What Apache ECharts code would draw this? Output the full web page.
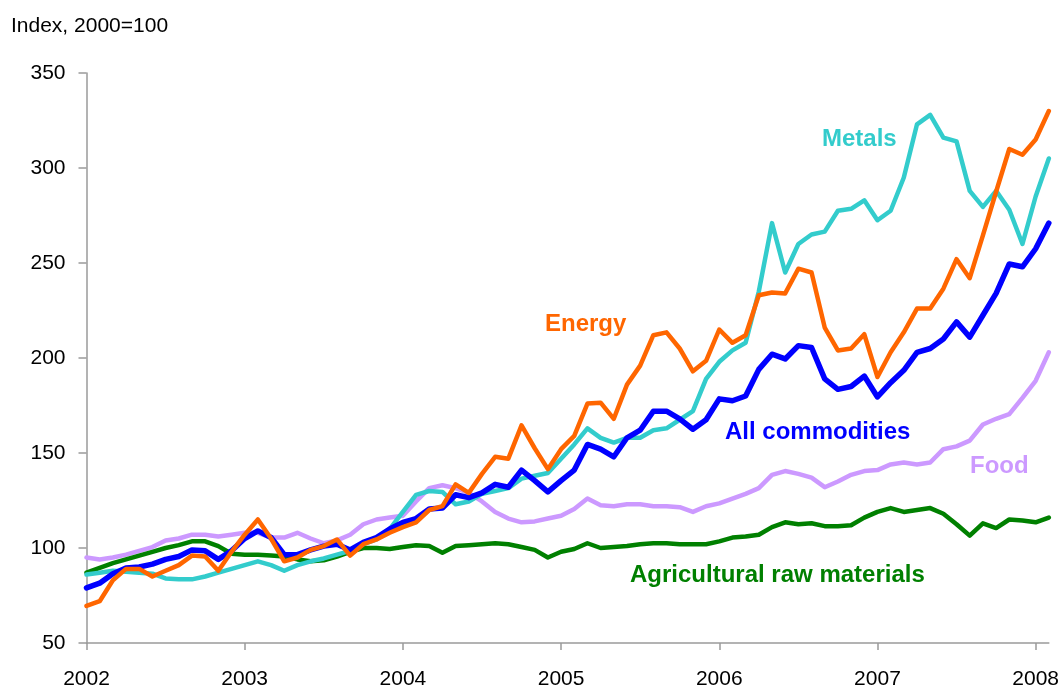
<!DOCTYPE html>
<html>
<head>
<meta charset="utf-8">
<script src="https://cdn.jsdelivr.net/npm/echarts@6/dist/echarts.min.js"></script>
<style>
  html, body { margin: 0; padding: 0; background: #fff; }
  #chart { width: 1062px; height: 693px; }
</style>
</head>
<body>
<div id="chart"></div>
<script>
// Monthly, Jan 2002 .. Feb 2008
const years = [2002, 2003, 2004, 2005, 2006, 2007, 2008];
const yTicks = [50, 100, 150, 200, 250, 300, 350];

const energy = [69.5, 72, 83, 89, 89, 85, 88, 91, 96, 95.5, 88, 98,
  107, 115, 105, 93, 95, 99, 101, 104.5, 96, 102, 104.5, 108,
  111, 113.5, 120, 122, 133.5, 129, 139, 148, 147, 164.5, 152.5, 141.5,
  152, 159, 176, 176.5, 168, 186, 196, 212, 213.5, 205, 193, 198.5,
  215, 208, 212, 233, 234.5, 234, 247, 245, 216, 204, 205, 212.5,
  190, 203, 213.5, 226, 226, 236.5, 252, 242, 264.5, 287.5, 310, 307,
  315, 330];

const metals = [86, 87, 88, 87.5, 87, 86.5, 84, 83.5, 83.5, 85, 87, 89,
  91, 93, 91, 88, 91, 93, 94.5, 96.5, 98.5, 102, 104.5, 110,
  119, 128, 130, 129.5, 123, 124.5, 128.5, 130, 131.5, 136.5, 138, 139.5,
  147, 154.5, 163, 158, 155.5, 158, 158, 162, 163, 167.5, 172, 189,
  198, 204, 208, 235, 271, 245, 260, 265, 266.5, 277.5, 278.5, 283,
  272.5, 277.5, 295, 323, 328, 316, 314, 288, 279.5, 288, 278, 260,
  285, 305];

const allCommodities = [79, 81.5, 86.5, 89.5, 90, 91.5, 94, 95.5, 99, 98.5, 94, 98.5,
  105, 109, 105.5, 96.5, 96.5, 99, 101, 102, 99, 103, 105.5, 110,
  113.5, 115.5, 120.5, 121, 128, 126.5, 129, 133.5, 132, 141, 135.5, 129.5,
  135.5, 141, 154.5, 152, 148, 158, 162, 172, 172, 168, 162.5, 167.5,
  178.5, 177.5, 180, 194, 202, 199.5, 206.5, 205.5, 189, 183.5, 185, 190.5,
  179.5, 187, 193.5, 203, 205, 210, 219, 211, 222.5, 234, 249.5, 248,
  257.5, 271];

const food = [95, 94, 95, 96.5, 98.5, 100.5, 104, 105, 107, 107, 106, 107,
  108, 108, 105.5, 105.5, 108, 105, 102.5, 104, 107, 112.5, 115, 116,
  117, 124.5, 131.5, 133, 131.5, 129, 124.5, 119, 115.5, 113.5, 114, 115.5,
  117, 120.5, 126, 122.5, 122, 123, 123, 122, 122, 121.5, 119, 122,
  123.5, 126, 128.5, 131.5, 138.5, 140.5, 139, 137, 132, 135, 138.5, 140.5,
  141, 144, 145, 144, 145, 152, 153.5, 156.5, 165, 168, 170.5, 179,
  188, 203];

const agri = [87, 89.5, 92, 94, 96, 98, 100, 101.5, 103.5, 103.5, 101, 97,
  96.5, 96.5, 96, 95.5, 94, 93, 93.5, 95.5, 98, 100, 100, 99.5,
  100.5, 101.5, 101, 97.5, 101, 101.5, 102, 102.5, 102, 100.5, 99, 95,
  98, 99.5, 102.5, 100, 100.5, 101, 102, 102.5, 102.5, 102, 102, 102,
  103.5, 105.5, 106, 107, 111, 113.5, 112.5, 113, 111.5, 111.5, 112, 116,
  119, 121, 119, 120, 121, 118, 112.5, 106.5, 113, 110.5, 115, 114.5,
  113.5, 116];

const seriesNames = ['Food', 'Agricultural raw materials', 'Metals', 'All commodities', 'Energy'];

// month categories built from the years list
const categories = [];
years.forEach(function (y) {
  for (let m = 1; m <= 12; m++) {
    if (categories.length < energy.length) categories.push(y + '-' + (m < 10 ? '0' + m : m));
  }
});

const FONT = "'Liberation Sans', Arial, sans-serif";
const colors = {
  'Energy': '#FF6600',
  'Metals': '#33CCCC',
  'All commodities': '#0000FF',
  'Food': '#CC99FF',
  'Agricultural raw materials': '#008000'
};
const dataMap = {
  'Energy': energy,
  'Metals': metals,
  'All commodities': allCommodities,
  'Food': food,
  'Agricultural raw materials': agri
};
const widths = {
  'Energy': 4.5,
  'Metals': 4.5,
  'All commodities': 5.5,
  'Food': 4.5,
  'Agricultural raw materials': 4.5
};

const chart = echarts.init(document.getElementById('chart'), null, { renderer: 'canvas' });

const isYearStart = function (index) { return index % 12 === 0; };

chart.setOption({
  backgroundColor: '#ffffff',
  animation: false,
  grid: { left: 86.5, right: 11, top: 73, bottom: 50, containLabel: false },
  xAxis: {
    type: 'category',
    data: categories,
    boundaryGap: false,
    axisLine: { show: true, lineStyle: { color: '#9a9a9a', width: 1.5 } },
    axisTick: { show: true, interval: isYearStart, length: 7, lineStyle: { color: '#9a9a9a', width: 1.5 } },
    axisLabel: {
      interval: isYearStart,
      formatter: function (v) { return v.slice(0, 4); },
      color: '#000', fontSize: 21, fontFamily: FONT, margin: 26
    },
    splitLine: { show: false }
  },
  yAxis: {
    type: 'value',
    min: yTicks[0],
    max: yTicks[yTicks.length - 1],
    interval: 50,
    axisLine: { show: true, lineStyle: { color: '#9a9a9a', width: 1.5 } },
    axisTick: { show: true, inside: false, length: 8, lineStyle: { color: '#9a9a9a', width: 1.5 } },
    axisLabel: { color: '#000', fontSize: 21, fontFamily: FONT, margin: 21 },
    splitLine: { show: false }
  },
  series: seriesNames.map(function (name, i) {
    return {
      name: name,
      type: 'line',
      data: dataMap[name],
      showSymbol: false,
      smooth: false,
      z: 2 + i,
      lineStyle: { color: colors[name], width: widths[name], join: 'round', cap: 'round' },
      itemStyle: { color: colors[name] }
    };
  }),
  graphic: [
    { type: 'text', left: 11, top: 16, style: { text: 'Index, 2000=100', fill: '#000', font: "21px " + FONT } },
    { type: 'text', x: 822, y: 139, style: { text: 'Metals', fill: colors['Metals'], font: "bold 24px " + FONT, verticalAlign: 'middle' } },
    { type: 'text', x: 545, y: 324, style: { text: 'Energy', fill: colors['Energy'], font: "bold 24px " + FONT, verticalAlign: 'middle' } },
    { type: 'text', x: 725, y: 432, style: { text: 'All commodities', fill: colors['All commodities'], font: "bold 24px " + FONT, verticalAlign: 'middle' } },
    { type: 'text', x: 970, y: 466, style: { text: 'Food', fill: colors['Food'], font: "bold 24px " + FONT, verticalAlign: 'middle' } },
    { type: 'text', x: 630, y: 575, style: { text: 'Agricultural raw materials', fill: colors['Agricultural raw materials'], font: "bold 24px " + FONT, verticalAlign: 'middle' } }
  ]
});
</script>
</body>
</html>
